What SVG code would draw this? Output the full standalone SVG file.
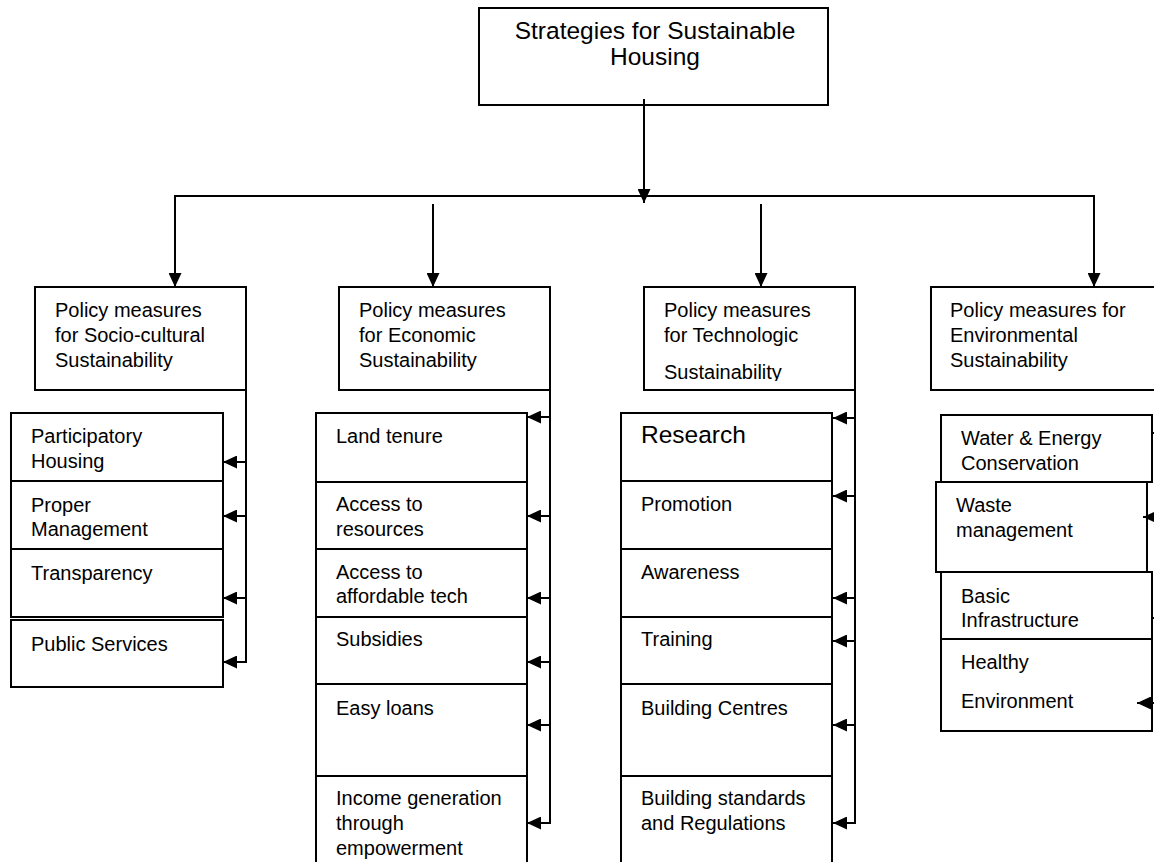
<svg xmlns="http://www.w3.org/2000/svg" width="1154" height="862" viewBox="0 0 1154 862">
<style>
  .box { fill: #fff; stroke: #000; stroke-width: 2; }
  .t { font-family: "Liberation Sans", Arial, sans-serif; font-size: 20px; fill: #000; }
  .title { font-family: "Liberation Sans", Arial, sans-serif; font-size: 24.5px; fill: #000; text-anchor: middle; }
  .big { font-size: 24.5px; }
  .conn line { stroke: #000; stroke-width: 2; fill: none; }
  .arr { marker-end: url(#ah); }
</style>
<defs>
  <marker id="ah" markerUnits="userSpaceOnUse" markerWidth="15" markerHeight="13" refX="14" refY="6.5" orient="auto">
    <path d="M0,0 L14,6.5 L0,13 z" fill="#000"/>
  </marker>
  <clipPath id="clipTech"><rect x="644" y="287" width="211" height="94"/></clipPath>
</defs>
<rect width="1154" height="862" fill="#fff"/>

<g id="root">
  <rect class="box" x="479" y="8" width="349" height="97"/>
  <text class="title" x="655" y="39">Strategies for Sustainable</text>
  <text class="title" x="655" y="65">Housing</text>
</g>

<g id="h-socio">
  <rect class="box" x="35" y="287" width="211" height="103"/>
  <text class="t" x="55" y="317">Policy measures</text>
  <text class="t" x="55" y="342">for Socio-cultural</text>
  <text class="t" x="55" y="367">Sustainability</text>
</g>
<g id="h-econ">
  <rect class="box" x="339" y="287" width="211" height="103"/>
  <text class="t" x="359" y="317">Policy measures</text>
  <text class="t" x="359" y="342">for Economic</text>
  <text class="t" x="359" y="367">Sustainability</text>
</g>
<g id="h-tech">
  <rect class="box" x="644" y="287" width="211" height="103"/>
  <text class="t" x="664" y="317">Policy measures</text>
  <text class="t" x="664" y="342">for Technologic</text>
  <text class="t" x="664" y="379" clip-path="url(#clipTech)">Sustainability</text>
</g>
<g id="h-env">
  <rect class="box" x="931" y="287" width="240" height="103"/>
  <text class="t" x="950" y="317">Policy measures for</text>
  <text class="t" x="950" y="342">Environmental</text>
  <text class="t" x="950" y="367">Sustainability</text>
</g>

<g id="s1"><rect class="box" x="11" y="413" width="212" height="68"/>
  <text class="t" x="31" y="443">Participatory</text><text class="t" x="31" y="468">Housing</text></g>
<g id="s2"><rect class="box" x="11" y="481" width="212" height="68"/>
  <text class="t" x="31" y="512">Proper</text><text class="t" x="31" y="536">Management</text></g>
<g id="s3"><rect class="box" x="11" y="549" width="212" height="68"/>
  <text class="t" x="31" y="580">Transparency</text></g>
<g id="s4"><rect class="box" x="11" y="620" width="212" height="67"/>
  <text class="t" x="31" y="651">Public Services</text></g>

<g id="e1"><rect class="box" x="316" y="413" width="211" height="69"/>
  <text class="t" x="336" y="443">Land tenure</text></g>
<g id="e2"><rect class="box" x="316" y="482" width="211" height="67"/>
  <text class="t" x="336" y="511">Access to</text><text class="t" x="336" y="536">resources</text></g>
<g id="e3"><rect class="box" x="316" y="549" width="211" height="68"/>
  <text class="t" x="336" y="579">Access to</text><text class="t" x="336" y="603">affordable tech</text></g>
<g id="e4"><rect class="box" x="316" y="617" width="211" height="67"/>
  <text class="t" x="336" y="646">Subsidies</text></g>
<g id="e5"><rect class="box" x="316" y="684" width="211" height="92"/>
  <text class="t" x="336" y="715">Easy loans</text></g>
<g id="e6"><rect class="box" x="316" y="776" width="211" height="110"/>
  <text class="t" x="336" y="805">Income generation</text><text class="t" x="336" y="830">through</text><text class="t" x="336" y="855">empowerment</text></g>

<g id="t1"><rect class="box" x="621" y="413" width="211" height="68"/>
  <text class="t big" x="641" y="443">Research</text></g>
<g id="t2"><rect class="box" x="621" y="481" width="211" height="68"/>
  <text class="t" x="641" y="511">Promotion</text></g>
<g id="t3"><rect class="box" x="621" y="549" width="211" height="68"/>
  <text class="t" x="641" y="579">Awareness</text></g>
<g id="t4"><rect class="box" x="621" y="617" width="211" height="67"/>
  <text class="t" x="641" y="646">Training</text></g>
<g id="t5"><rect class="box" x="621" y="684" width="211" height="92"/>
  <text class="t" x="641" y="715">Building Centres</text></g>
<g id="t6"><rect class="box" x="621" y="776" width="211" height="110"/>
  <text class="t" x="641" y="805">Building standards</text><text class="t" x="641" y="830">and Regulations</text></g>

<g id="v1"><rect class="box" x="941" y="415" width="211" height="67"/>
  <text class="t" x="961" y="445">Water &amp; Energy</text><text class="t" x="961" y="470">Conservation</text></g>
<g id="v2"><rect class="box" x="936" y="482" width="211" height="90"/>
  <text class="t" x="956" y="512">Waste</text><text class="t" x="956" y="537">management</text></g>
<g id="v3"><rect class="box" x="941" y="572" width="211" height="67"/>
  <text class="t" x="961" y="603">Basic</text><text class="t" x="961" y="627">Infrastructure</text></g>
<g id="v4"><rect class="box" x="941" y="639" width="211" height="92"/>
  <text class="t" x="961" y="669">Healthy</text><text class="t" x="961" y="708">Environment</text></g>

<g id="connectors" class="conn">
  <line class="arr" x1="644" y1="99" x2="644" y2="203"/>
  <line x1="175" y1="196" x2="1094" y2="196"/>
  <line class="arr" x1="175" y1="195" x2="175" y2="287"/>
  <line class="arr" x1="1094" y1="195" x2="1094" y2="287"/>
  <line class="arr" x1="433" y1="204" x2="433" y2="287"/>
  <line class="arr" x1="761" y1="204" x2="761" y2="287"/>

  <line x1="246" y1="389" x2="246" y2="663"/>
  <line class="arr" x1="246" y1="462" x2="223" y2="462"/>
  <line class="arr" x1="246" y1="516" x2="223" y2="516"/>
  <line class="arr" x1="246" y1="598" x2="223" y2="598"/>
  <line class="arr" x1="246" y1="662" x2="223" y2="662"/>

  <line x1="550" y1="389" x2="550" y2="824"/>
  <line class="arr" x1="550" y1="417" x2="527" y2="417"/>
  <line class="arr" x1="550" y1="516" x2="527" y2="516"/>
  <line class="arr" x1="550" y1="598" x2="527" y2="598"/>
  <line class="arr" x1="550" y1="662" x2="527" y2="662"/>
  <line class="arr" x1="550" y1="725" x2="527" y2="725"/>
  <line class="arr" x1="550" y1="823" x2="527" y2="823"/>

  <line x1="855" y1="389" x2="855" y2="824"/>
  <line class="arr" x1="855" y1="418" x2="833" y2="418"/>
  <line class="arr" x1="855" y1="496" x2="833" y2="496"/>
  <line class="arr" x1="855" y1="598" x2="833" y2="598"/>
  <line class="arr" x1="855" y1="641" x2="833" y2="641"/>
  <line class="arr" x1="855" y1="725" x2="833" y2="725"/>
  <line class="arr" x1="855" y1="823" x2="833" y2="823"/>

  <line x1="1152" y1="433" x2="1170" y2="433"/>
  <line class="arr" x1="1175" y1="517" x2="1143" y2="517"/>
  <line class="arr" x1="1175" y1="618" x2="1153" y2="618"/>
  <line class="arr" x1="1175" y1="703" x2="1137" y2="703"/>
</g>
</svg>
